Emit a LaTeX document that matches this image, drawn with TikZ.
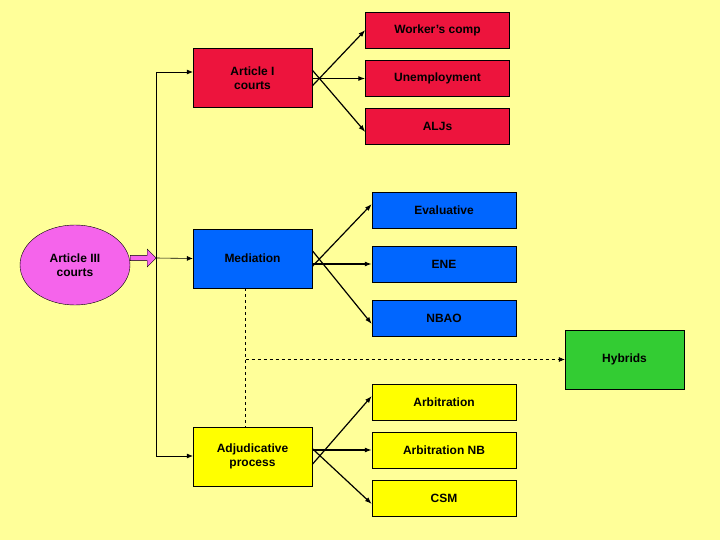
\documentclass[tikz,border=0pt]{standalone}
\usepackage{fontspec}
\setmainfont{Liberation Sans}
\usetikzlibrary{arrows.meta,shapes.arrows,shapes.geometric}
\definecolor{bg}{RGB}{255,255,153}
\definecolor{rd}{RGB}{237,20,61}
\definecolor{bl}{RGB}{0,102,255}
\definecolor{gr}{RGB}{51,204,51}
\definecolor{yl}{RGB}{255,255,0}
\definecolor{pk}{RGB}{245,100,235}
\begin{document}
\begin{tikzpicture}[x=1pt,y=-1pt,
 box/.style={draw=black,minimum width=144pt,minimum height=36pt,inner sep=1pt,font=\bfseries\fontsize{12}{14}\selectfont,align=center},
 big/.style={box,minimum width=119pt,minimum height=59pt},
 arr/.style={-{Latex[length=7pt,width=5pt]},line width=1.2pt},
 tarr/.style={-{Latex[length=6pt,width=5pt]},line width=0.6pt}]
\fill[bg] (0,0) rectangle (720,540);
\useasboundingbox (0,0) rectangle (720,540);
\node[box,fill=rd] (wc) at (437.5,30) {Worker’s comp};
\node[big,fill=rd] (a1) at (252.5,78) {Article I\\courts};
\node[box,fill=rd] (un) at (437.5,78.5) {Unemployment};
\node[box,fill=rd] (alj) at (437.5,126) {ALJs};
\node[box,fill=bl] (ev) at (444,210) {Evaluative};
\node[big,fill=bl] (med) at (252.5,258.5) {Mediation};
\node[box,fill=bl] (ene) at (444,264) {ENE};
\node[box,fill=bl] (nb) at (444,318) {NBAO};
\node[big,fill=gr] (hy) at (624.5,359.5) {Hybrids};
\node[box,fill=yl] (ar) at (444,402) {Arbitration};
\node[big,fill=yl] (adj) at (252.5,456.5) {Adjudicative\\process};
\node[box,fill=yl] (anb) at (444,450) {Arbitration NB};
\node[box,fill=yl] (csm) at (444,498) {CSM};
\node[draw=black,fill=pk,ellipse,minimum width=110pt,minimum height=80pt,inner sep=0pt,font=\bfseries\fontsize{12}{14}\selectfont,align=center] (e) at (75,265) {Article III\\courts};
\node[single arrow,draw=black,fill=pk,minimum height=26pt,minimum width=18pt,single arrow head extend=3pt,inner sep=1pt,anchor=tail] (pa) at (130,258) {};
\coordinate (t1) at (156,72);
\coordinate (t3) at (156,456);
\draw[line width=0.6pt] (t1) -- (t3);
\draw[tarr] (t1) -- (a1.west|-t1);
\draw[tarr] (156,258) -- (med.west);
\draw[tarr] (t3) -- (adj.west|-t3);
\draw[arr] ([yshift=-8pt]a1.east) -- (wc.west);
\draw[arr] (a1.east|-un) -- (un.west);
\draw[arr] ([yshift=8pt]a1.east) -- ([yshift=-6pt]alj.west);
\draw[arr] ([yshift=-8pt]med.east) -- ([yshift=6pt]ev.west);
\draw[arr] (med.east|-ene) -- (ene.west);
\draw[arr] ([yshift=8pt]med.east) -- ([yshift=-6pt]nb.west);
\draw[arr] ([yshift=-8pt]adj.east) -- ([yshift=6pt]ar.west);
\draw[arr] (adj.east|-anb) -- (anb.west);
\draw[arr] ([yshift=8pt]adj.east) -- ([yshift=-6pt]csm.west);
\draw[dashed,line width=0.6pt] ([xshift=-7pt]med.south) -- ([xshift=-7pt]adj.north);
\coordinate (h) at (245.5,359.5);
\draw[tarr,dashed] (h) -- (hy.west);
\end{tikzpicture}
\end{document}
